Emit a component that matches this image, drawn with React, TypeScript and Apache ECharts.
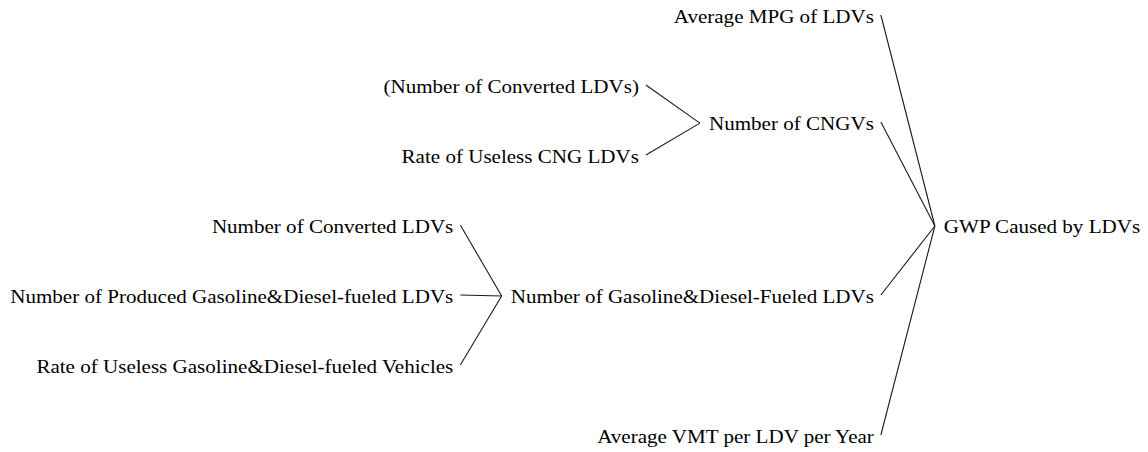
import { useEffect, useRef } from "react";
import * as echarts from "echarts";

// Cause tree: node labels, the index of each node's parent (-1 = root), and its row
const nodeNames = [
  "GWP Caused by LDVs",
  "Average MPG of LDVs",
  "Number of CNGVs",
  "Number of Gasoline&Diesel-Fueled LDVs",
  "Average VMT per LDV per Year",
  "(Number of Converted LDVs)",
  "Rate of Useless CNG LDVs",
  "Number of Converted LDVs",
  "Number of Produced Gasoline&Diesel-fueled LDVs",
  "Rate of Useless Gasoline&Diesel-fueled Vehicles",
];
const nodeParents = [-1, 0, 0, 0, 0, 2, 2, 3, 3, 3];
const nodeRows = [3, 0, 1.53, 4, 6, 1, 2, 3, 4, 5];

// layout constants
const W = 1148;
const H = 452;
const FONT_SIZE = 18;
const SCALE_X = 1.17;
const FONT_FAMILY = '"Liberation Serif", "Times New Roman", Times, serif';
const RIGHT_MARGIN = 7;
const LEFT_MARGIN = 10;
const GAP = 70;
const START_PAD = 7;
const JOIN_PAD = 9;
const ROW_TOP = 17;
const ROW_STEP = 70;

function measure(text: string): number {
  const ctx = document.createElement("canvas").getContext("2d")!;
  ctx.font = `${FONT_SIZE}px ${FONT_FAMILY}`;
  return ctx.measureText(text).width * SCALE_X;
}

function buildData() {
  const widths = nodeNames.map(measure);
  const left: number[] = [];
  const right: number[] = [];
  nodeNames.forEach((_, i) => {
    const p = nodeParents[i];
    if (p < 0) {
      right[i] = W - RIGHT_MARGIN;
      left[i] = right[i] - widths[i];
      return;
    }
    const siblings = nodeParents
      .map((q, j) => (q === p ? j : -1))
      .filter((j) => j >= 0);
    const maxW = Math.max(...siblings.map((j) => widths[j]));
    const gap = Math.min(GAP, left[p] - maxW - LEFT_MARGIN);
    right[i] = left[p] - gap;
    left[i] = right[i] - widths[i];
  });
  return nodeNames.map((name, i) => {
    const p = nodeParents[i];
    if (p < 0) return { name, value: [left[i], nodeRows[i], 0, 0, 0] };
    return {
      name,
      value: [right[i], nodeRows[i], right[i] + START_PAD, left[p] - JOIN_PAD, nodeRows[p]],
    };
  });
}

export default function App() {
  const ref = useRef<HTMLDivElement>(null);
  useEffect(() => {
    if (!ref.current) return;
    const chart = echarts.init(ref.current, undefined, { renderer: "svg" });
    const data = buildData();
    chart.setOption({
      animation: false,
      backgroundColor: "#ffffff",
      grid: { left: 0, right: 0, top: 0, bottom: 0 },
      xAxis: { type: "value", min: 0, max: W, show: false },
      yAxis: {
        type: "value",
        inverse: true,
        min: -ROW_TOP / ROW_STEP,
        max: (H - ROW_TOP) / ROW_STEP,
        show: false,
      },
      series: [
        {
          type: "custom",
          coordinateSystem: "cartesian2d",
          clip: false,
          data,
          renderItem: (params: any, api: any) => {
            const i = params.dataIndex;
            const isRoot = nodeParents[i] < 0;
            const t = api.coord([api.value(0), api.value(1)]);
            const children: any[] = [
              {
                type: "text",
                x: t[0],
                y: t[1],
                scaleX: SCALE_X,
                style: {
                  text: nodeNames[i],
                  x: 0,
                  y: 0,
                  align: isRoot ? "left" : "right",
                  verticalAlign: "middle",
                  fontSize: FONT_SIZE,
                  fontFamily: FONT_FAMILY,
                  fill: "#000000",
                },
              },
            ];
            if (!isRoot) {
              const a = api.coord([api.value(2), api.value(1)]);
              const b = api.coord([api.value(3), api.value(4)]);
              children.push({
                type: "line",
                shape: { x1: a[0], y1: a[1] - 2, x2: b[0], y2: b[1] - 1 },
                style: { stroke: "#1a1a1a", lineWidth: 1.1 },
              });
            }
            return { type: "group", children };
          },
        },
      ],
    });
    return () => chart.dispose();
  }, []);
  return (
    <div
      ref={ref}
      style={{ position: "fixed", left: 0, top: 0, width: W, height: H }}
    />
  );
}
